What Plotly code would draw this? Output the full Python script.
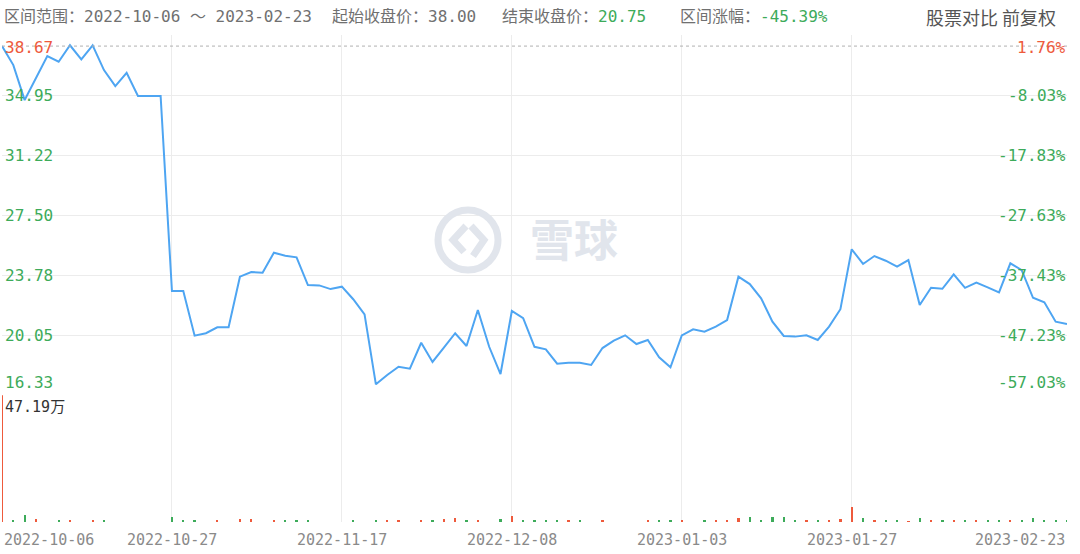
import plotly.graph_objects as go

# ---------------- data ----------------
dates = [
    "2022-10-06", "2022-10-07", "2022-10-10", "2022-10-11", "2022-10-12", "2022-10-13", "2022-10-14",
    "2022-10-17", "2022-10-18", "2022-10-19", "2022-10-20", "2022-10-21", "2022-10-24", "2022-10-25",
    "2022-10-26", "2022-10-27", "2022-10-28", "2022-10-31",
    "2022-11-01", "2022-11-02", "2022-11-03", "2022-11-04", "2022-11-07", "2022-11-08", "2022-11-09",
    "2022-11-10", "2022-11-11", "2022-11-14", "2022-11-15", "2022-11-16", "2022-11-17", "2022-11-18",
    "2022-11-21", "2022-11-22", "2022-11-23", "2022-11-24", "2022-11-25", "2022-11-28", "2022-11-29",
    "2022-11-30",
    "2022-12-01", "2022-12-02", "2022-12-05", "2022-12-06", "2022-12-07", "2022-12-08", "2022-12-09",
    "2022-12-12", "2022-12-13", "2022-12-14", "2022-12-15", "2022-12-16", "2022-12-19", "2022-12-20",
    "2022-12-21", "2022-12-22", "2022-12-23", "2022-12-28", "2022-12-29", "2022-12-30",
    "2023-01-03", "2023-01-04", "2023-01-05", "2023-01-06", "2023-01-09", "2023-01-10", "2023-01-11",
    "2023-01-12", "2023-01-13", "2023-01-16", "2023-01-17", "2023-01-18", "2023-01-19", "2023-01-20",
    "2023-01-26", "2023-01-27", "2023-01-30", "2023-01-31",
    "2023-02-01", "2023-02-02", "2023-02-03", "2023-02-06", "2023-02-07", "2023-02-08", "2023-02-09",
    "2023-02-10", "2023-02-13", "2023-02-14", "2023-02-15", "2023-02-16", "2023-02-17", "2023-02-20",
    "2023-02-21", "2023-02-22", "2023-02-23",
]

close = [
    38.00, 36.82, 34.65, 35.99, 37.38, 37.03, 38.05, 37.17, 38.05, 36.51,
    35.52, 36.34, 34.90, 34.90, 34.90, 22.80, 22.80, 20.03, 20.18, 20.55,
    20.55, 23.69, 23.98, 23.94, 25.18, 24.99, 24.89, 23.17, 23.15, 22.92,
    23.07, 22.29, 21.35, 17.01, 17.59, 18.10, 17.98, 19.59, 18.40, 19.28,
    20.18, 19.39, 21.62, 19.34, 17.65, 21.56, 21.11, 19.34, 19.18, 18.29,
    18.35, 18.35, 18.21, 19.26, 19.72, 20.05, 19.51, 19.76, 18.69, 18.07,
    20.05, 20.42, 20.28, 20.59, 21.00, 23.69, 23.23, 22.35, 20.90, 20.01,
    19.97, 20.05, 19.76, 20.59, 21.67, 25.39, 24.48, 24.97, 24.68, 24.31,
    24.72, 21.93, 23.00, 22.94, 23.84, 23.00, 23.32, 23.03, 22.72, 24.52,
    24.10, 22.38, 22.10, 20.90, 20.75,
]

volume_wan = [
    47.19, 0.5, 2.5, 0.9, 0.0, 0.4, 0.8, 0.0, 0.4, 0.4,
    0.0, 0.0, 0.0, 0.0, 0.0, 1.8, 0.8, 0.4, 0.0, 0.4,
    0.0, 1.0, 1.0, 0.0, 0.4, 0.4, 0.4, 0.4, 0.0, 0.0,
    0.0, 0.4, 0.0, 0.4, 0.6, 0.4, 0.0, 0.4, 0.4, 0.9,
    1.2, 0.4, 0.4, 0.0, 0.9, 2.2, 0.4, 0.4, 0.4, 0.4,
    0.4, 0.4, 0.0, 0.4, 0.0, 0.0, 0.0, 0.4, 0.4, 0.6,
    0.8, 0.0, 0.4, 0.6, 0.4, 1.2, 1.6, 0.4, 1.6, 1.6,
    0.4, 0.4, 0.4, 0.4, 1.0, 5.5, 1.3, 0.6, 0.4, 0.4,
    0.2, 1.3, 0.6, 0.4, 0.8, 0.4, 0.4, 0.4, 0.4, 0.6,
    0.4, 1.2, 0.4, 0.4, 0.3,
]

price_ticks = [38.67, 34.95, 31.22, 27.50, 23.78, 20.05, 16.33]
price_tick_text = ["38.67", "34.95", "31.22", "27.50", "23.78", "20.05", "16.33"]
pct_tick_text = ["1.76%", "-8.03%", "-17.83%", "-27.63%", "-37.43%", "-47.23%", "-57.03%"]
xtick_dates = ["2022-10-06", "2022-10-27", "2022-11-17", "2022-12-08",
               "2023-01-03", "2023-01-27", "2023-02-23"]

# ---------------- styles ----------------
RED = "#ee5a3c"
GREEN = "#3dab5a"
LINE = "#4ea5f2"
GRID = "#ececec"
FONT = "DejaVu Sans Mono, Noto Sans CJK SC, sans-serif"
CJK = "Noto Sans CJK SC, sans-serif"

start_close = close[0]
end_close = close[-1]
change_pct = (end_close / start_close - 1) * 100

bar_colors = []
for i, c in enumerate(close):
    if i == 0 or c > close[i - 1]:
        bar_colors.append(RED)
    else:
        bar_colors.append(GREEN)

fig = go.Figure()
fig.add_trace(go.Scatter(
    x=dates, y=close, mode="lines", line=dict(color=LINE, width=2),
    xaxis="x", yaxis="y", hoverinfo="skip", showlegend=False))
fig.add_trace(go.Bar(
    x=dates, y=volume_wan, marker=dict(color=bar_colors, line=dict(width=0)),
    width=0.2, xaxis="x2", yaxis="y2", hoverinfo="skip", showlegend=False))

PRICE_DOM = [0.2865, 0.9363]
VOL_DOM = [0.0578, 0.2865]

axis_common = dict(type="category", categoryorder="array", categoryarray=dates,
                   range=[0, len(dates) - 1], tickvals=xtick_dates, showticklabels=False,
                   showgrid=True, gridcolor=GRID, gridwidth=1, zeroline=False,
                   showline=False, ticks="", fixedrange=True)

fig.update_layout(
    width=1080, height=554,
    margin=dict(l=2, r=13, t=0, b=0),
    paper_bgcolor="white", plot_bgcolor="white",
    bargap=0,
    xaxis=dict(anchor="y", domain=[0, 1], **axis_common),
    xaxis2=dict(anchor="y2", domain=[0, 1], matches="x", **axis_common),
    yaxis=dict(domain=PRICE_DOM, range=[price_ticks[-1], price_ticks[0]],
               tickvals=price_ticks, showticklabels=False, showgrid=True,
               gridcolor=GRID, gridwidth=1, zeroline=False, showline=False, ticks="",
               fixedrange=True),
    yaxis2=dict(domain=VOL_DOM, range=[0, max(volume_wan)], showticklabels=False,
                showgrid=False, zeroline=False, showline=False, ticks="", fixedrange=True),
)

shapes = []
# start-close reference line
shapes.append(dict(type="line", xref="paper", x0=0, x1=1, yref="y",
                   y0=start_close, y1=start_close,
                   line=dict(color="#b0b0b0", width=1, dash="3px,3px")))

# watermark logo (decoration)
def px_x(px):
    return (px - 2) / 1065.0

def px_y(py):
    return 1 - py / 554.0

WM = "#e1e5ec"
shapes.append(dict(type="circle", xref="paper", yref="paper",
                   x0=px_x(438), x1=px_x(498), y0=px_y(270), y1=px_y(210),
                   line=dict(color=WM, width=7)))
shapes.append(dict(type="path", xref="paper", yref="paper",
                   path=f"M {px_x(466)} {px_y(226)} L {px_x(453)} {px_y(240)} L {px_x(464)} {px_y(252)}",
                   line=dict(color=WM, width=7)))
shapes.append(dict(type="path", xref="paper", yref="paper",
                   path=f"M {px_x(471)} {px_y(226)} L {px_x(484)} {px_y(240)} L {px_x(473)} {px_y(256)}",
                   line=dict(color=WM, width=7)))

annotations = []
# watermark text
annotations.append(dict(text="<b>雪球</b>", xref="paper", yref="paper", x=px_x(574), y=px_y(238),
                        showarrow=False, font=dict(family=CJK, size=44, color=WM),
                        xanchor="center", yanchor="middle"))

# price & percent tick labels
n = len(price_ticks)
for i, (v, t, p) in enumerate(zip(price_ticks, price_tick_text, pct_tick_text)):
    col = RED if v > start_close else GREEN
    if i == 0:
        ya, ys = "top", -1
    elif i == n - 1:
        ya, ys = "bottom", 1
    else:
        ya, ys = "middle", 0
    annotations.append(dict(text=t, xref="paper", x=0, xanchor="left", xshift=1,
                            yref="y", y=v, yanchor=ya, yshift=ys, showarrow=False,
                            font=dict(family=FONT, size=16, color=col)))
    annotations.append(dict(text=p, xref="paper", x=1, xanchor="right", xshift=1,
                            yref="y", y=v, yanchor=ya, yshift=ys, showarrow=False,
                            font=dict(family=FONT, size=16, color=col)))

# volume max label
annotations.append(dict(text=f"{max(volume_wan):.2f}万", xref="paper", x=0, xanchor="left", xshift=1,
                        yref="y2", y=max(volume_wan), yanchor="top", yshift=-1, showarrow=False,
                        font=dict(family=FONT, size=15, color="#333333")))

# x date labels
for i, d in enumerate(xtick_dates):
    xa = "left" if i == 0 else ("right" if i == len(xtick_dates) - 1 else "center")
    annotations.append(dict(text=d, xref="x2", x=d, xanchor=xa, yref="paper", y=px_y(540),
                            yanchor="middle", showarrow=False,
                            font=dict(family=FONT, size=15, color="#8a8a8a")))

# header
HDR = "#707070"
annotations.append(dict(text=f"区间范围：{dates[0]} ～ {dates[-1]}", xref="paper", yref="paper",
                        x=px_x(2), y=px_y(17), xanchor="left", yanchor="middle", showarrow=False,
                        font=dict(family=FONT, size=16, color=HDR)))
annotations.append(dict(text=f"起始收盘价：{start_close:.2f}", xref="paper", yref="paper",
                        x=px_x(330), y=px_y(17), xanchor="left", yanchor="middle", showarrow=False,
                        font=dict(family=FONT, size=16, color=HDR)))
annotations.append(dict(text=f"结束收盘价：<span style='color:{GREEN}'>{end_close:.2f}</span>",
                        xref="paper", yref="paper",
                        x=px_x(500), y=px_y(17), xanchor="left", yanchor="middle", showarrow=False,
                        font=dict(family=FONT, size=16, color=HDR)))
annotations.append(dict(text=f"区间涨幅：<span style='color:{GREEN}'>{change_pct:.2f}%</span>",
                        xref="paper", yref="paper",
                        x=px_x(678), y=px_y(17), xanchor="left", yanchor="middle", showarrow=False,
                        font=dict(family=FONT, size=16, color=HDR)))
annotations.append(dict(text="股票对比 前复权", xref="paper", yref="paper",
                        x=px_x(1058), y=px_y(17), xanchor="right", yanchor="middle", showarrow=False,
                        font=dict(family=CJK, size=18, color="#555555")))

fig.update_layout(shapes=shapes, annotations=annotations)

fig.write_html("out.html", config={"displayModeBar": False},
               post_script="document.body.style.margin='0';document.body.style.overflow='hidden';")
